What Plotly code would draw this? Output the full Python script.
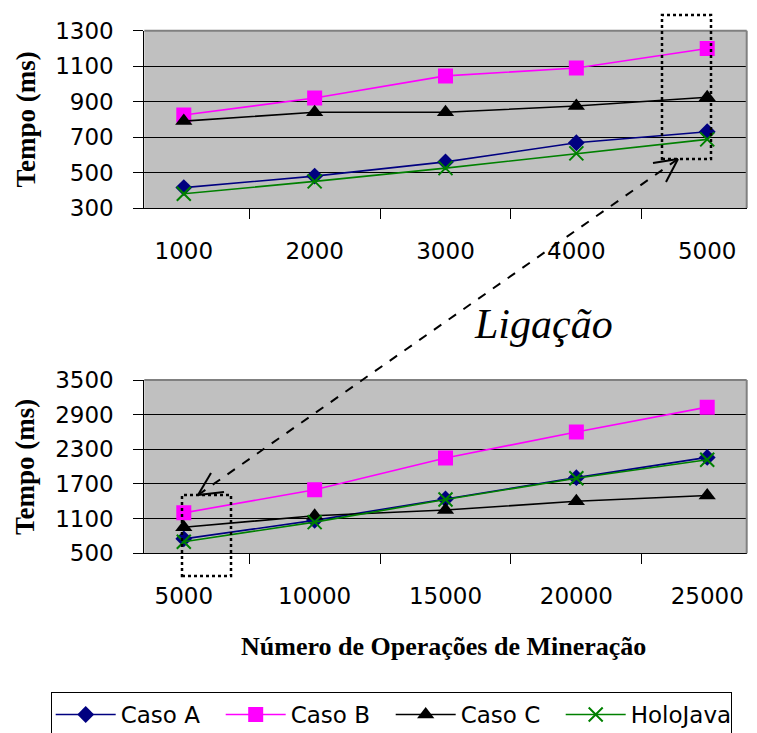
import plotly.graph_objects as go

# page has an 8px body margin; figure is sized to fit inside the 757x733 window
OFF = 8
W, H = 757 - OFF, 733 - OFF

# ---- data ----
ops_top = ["1000", "2000", "3000", "4000", "5000"]
caso_a_top = [415, 480, 560, 668, 730]
caso_b_top = [825, 920, 1045, 1090, 1200]
caso_c_top = [790, 840, 840, 875, 925]
holo_top = [380, 450, 525, 608, 687]

ops_bot = ["5000", "10000", "15000", "20000", "25000"]
caso_a_bot = [750, 1070, 1440, 1810, 2160]
caso_b_bot = [1200, 1600, 2150, 2600, 3030]
caso_c_bot = [950, 1150, 1250, 1400, 1500]
holo_bot = [700, 1040, 1430, 1800, 2120]

series_names = ["Caso A", "Caso B", "Caso C", "HoloJava"]
colors = ["#000080", "#FF00FF", "#000000", "#008000"]
symbols = ["diamond", "square", "triangle-up", "x-thin"]
msizes = [13, 15, 15, 14]

def px(x):
    return (x - OFF) / W

def py(y):
    return 1 - (y - OFF) / H

fig = go.Figure()

top_sets = [caso_a_top, caso_b_top, caso_c_top, holo_top]
bot_sets = [caso_a_bot, caso_b_bot, caso_c_bot, holo_bot]

def marker(i):
    mk = dict(symbol=symbols[i], size=msizes[i], color=colors[i])
    if symbols[i] == "x-thin":
        mk["line"] = dict(color=colors[i], width=2)
    return mk

for i in range(4):
    fig.add_trace(go.Scatter(x=ops_top, y=top_sets[i], mode="lines+markers",
                             name=series_names[i], line=dict(color=colors[i], width=1.6),
                             marker=marker(i), xaxis="x", yaxis="y", showlegend=True,
                             legendgroup=series_names[i]))
for i in range(4):
    fig.add_trace(go.Scatter(x=ops_bot, y=bot_sets[i], mode="lines+markers",
                             name=series_names[i], line=dict(color=colors[i], width=1.6),
                             marker=marker(i), xaxis="x2", yaxis="y2", showlegend=False,
                             legendgroup=series_names[i]))

sans = "DejaVu Sans, Arial, sans-serif"
serif = "Liberation Serif, Times New Roman, serif"
tick_font = dict(family=sans, size=23, color="black")

xcommon = dict(type="category", showline=True, linecolor="black", linewidth=1,
               ticks="outside", tickson="boundaries", ticklen=10, tickcolor="black",
               showgrid=False, tickfont=tick_font, ticklabelstandoff=22, zeroline=False,
               automargin=False)
ycommon = dict(showline=True, linecolor="black", linewidth=1, ticks="outside",
               ticklen=10, tickcolor="black", showgrid=True, gridcolor="black",
               gridwidth=1, tickfont=tick_font, zeroline=False, ticklabelstandoff=15,
               automargin=False)

fig.update_layout(
    width=W, height=H, autosize=False,
    margin=dict(l=0, r=0, t=0, b=0, autoexpand=False),
    paper_bgcolor="white", plot_bgcolor="#C0C0C0",
    xaxis=dict(domain=[px(144.3), px(746.7)], anchor="y", **xcommon),
    yaxis=dict(domain=[py(208), py(30.7)], anchor="x", range=[300, 1300],
               tickvals=[300, 500, 700, 900, 1100, 1300], **ycommon),
    xaxis2=dict(domain=[px(144.3), px(746.7)], anchor="y2", **xcommon),
    yaxis2=dict(domain=[py(553.3), py(380)], anchor="x2", range=[500, 3500],
                tickvals=[500, 1100, 1700, 2300, 2900, 3500], **ycommon),
    legend=dict(orientation="h", x=px(50.7), xanchor="left", y=py(692), yanchor="top",
                bordercolor="black", borderwidth=1, bgcolor="white",
                font=dict(family=sans, size=23, color="black"),
                itemwidth=60, entrywidth=95, entrywidthmode="pixels", tracegroupgap=0),
    showlegend=True,
)

annotations = [
    dict(text="<b>Tempo (ms)</b>", x=px(25), y=py(119.5), xref="paper", yref="paper",
         textangle=-90, showarrow=False, font=dict(family=serif, size=27, color="black"),
         xanchor="center", yanchor="middle"),
    dict(text="<b>Tempo (ms)</b>", x=px(25), y=py(467), xref="paper", yref="paper",
         textangle=-90, showarrow=False, font=dict(family=serif, size=27, color="black"),
         xanchor="center", yanchor="middle"),
    dict(text="<b>Número de Operações de Mineração</b>", x=px(443), y=py(646),
         xref="paper", yref="paper", showarrow=False,
         font=dict(family=serif, size=26, color="black"),
         xanchor="center", yanchor="middle"),
    dict(text="<i>Ligação</i>", x=px(543), y=py(324), xref="paper", yref="paper",
         showarrow=False, font=dict(family=serif, size=42, color="black"),
         xanchor="center", yanchor="middle"),
]
fig.update_layout(annotations=annotations)

shapes = []
# grey plot-area border (top and right)
for ya, xa in (("y", "x"), ("y2", "x2")):
    shapes.append(dict(type="line", xref=f"{xa} domain", yref=f"{ya} domain",
                       x0=0, x1=1, y0=1, y1=1, line=dict(color="#808080", width=2)))
    shapes.append(dict(type="line", xref=f"{xa} domain", yref=f"{ya} domain",
                       x0=1, x1=1, y0=0, y1=1, line=dict(color="#808080", width=2)))
# dotted rectangles
shapes.append(dict(type="rect", xref="paper", yref="paper", x0=px(662), x1=px(711),
                   y0=py(159), y1=py(15), line=dict(color="black", width=2.5, dash="dot")))
shapes.append(dict(type="rect", xref="paper", yref="paper", x0=px(182), x1=px(231),
                   y0=py(576), y1=py(495), line=dict(color="black", width=2.5, dash="dot")))
# dashed connector
shapes.append(dict(type="line", xref="paper", yref="paper", x0=px(198), y0=py(495),
                   x1=px(678), y1=py(159), line=dict(color="black", width=2, dash="dash")))
# arrow heads
for (xa, ya, xb, yb) in [(653, 163, 678, 159), (666, 182, 678, 159),
                         (211, 473, 198, 495), (224, 492, 198, 495)]:
    shapes.append(dict(type="line", xref="paper", yref="paper", x0=px(xa), y0=py(ya),
                       x1=px(xb), y1=py(yb), line=dict(color="black", width=2)))
fig.update_layout(shapes=shapes)

fig.write_html("out.html")
